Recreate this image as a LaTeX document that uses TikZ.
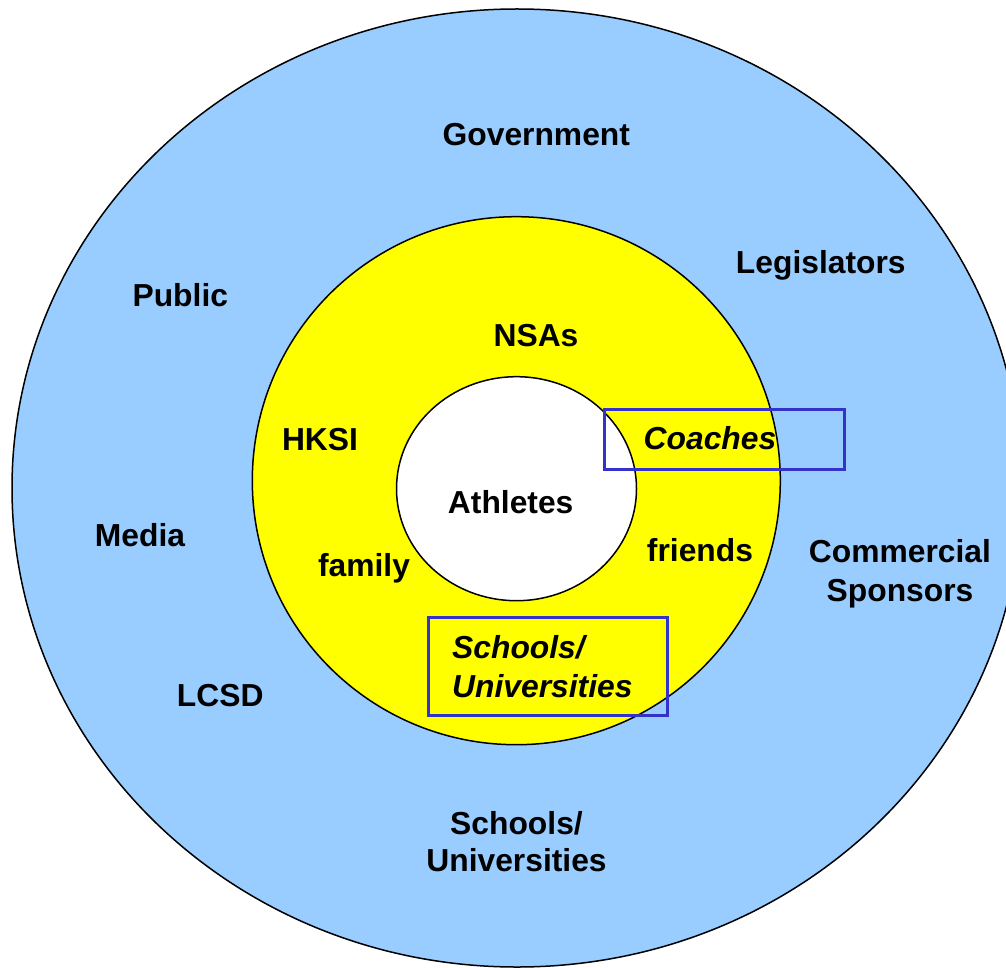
\documentclass[tikz,border=0pt]{standalone}
\usepackage{fontspec}
\setmainfont{Liberation Sans}
\definecolor{outerblue}{RGB}{153,204,255}
\definecolor{inneryellow}{RGB}{255,255,0}
\definecolor{boxblue}{RGB}{51,51,204}
\begin{document}
\begin{tikzpicture}[x=1pt,y=-1pt,
  lbl/.style={anchor=base,inner sep=0pt,font=\fontsize{31.8}{38}\selectfont\bfseries},
  ilbl/.style={lbl,font=\fontsize{31.8}{38}\selectfont\bfseries\itshape},
  ring/.style={draw=black,line width=1.5pt},
  hlbox/.style={draw=boxblue,line width=3pt,inner sep=0pt,outer sep=0pt,anchor=north west}]
\useasboundingbox (0,0) rectangle (1006,968);
\fill[white] (0,0) rectangle (1006,968);
\clip (0,0) rectangle (1006,968);
% rings
\path[ring,fill=outerblue] (517,488) ellipse [x radius=505pt, y radius=479pt];
\path[ring,fill=inneryellow] (516.3,480.7) circle [radius=264pt];
\path[ring,fill=white] (516.5,488.7) ellipse [x radius=120pt, y radius=112pt];
% highlight boxes (anchored on the stroke centre line)
\node[hlbox,minimum width=240.5pt,minimum height=60pt] (coachbox) at (604.2,409.8) {};
\node[hlbox,minimum width=239pt,minimum height=98.3pt] (schoolbox) at (428.5,617.2) {};
% outer ring labels
\node[lbl] (gov) at (536.3,145.3) {Government};
\node[lbl] (leg) at (820.8,273.3) {Legislators};
\node[lbl] (pub) at (180.3,306) {Public};
\node[lbl] (med) at (140,546) {Media};
\node[lbl] (lcsd) at (220.2,706) {LCSD};
\node[lbl] (com1) at (900,562) {Commercial};
\node[lbl] (com2) at (900,601) {Sponsors};
\node[lbl] (osch1) at (516.5,834) {Schools/};
\node[lbl] (osch2) at (516.5,871.7) {Universities};
% middle ring labels
\node[lbl] (nsa) at (536,346.4) {NSAs};
\node[lbl] (hksi) at (320,450) {HKSI};
\node[ilbl] (coach) at (710,449) {Coaches};
\node[lbl] (fri) at (700,561) {friends};
\node[lbl] (fam) at (364,576.8) {family};
\node[ilbl,anchor=base west] (isch1) at (452,658) {Schools/};
\node[ilbl,anchor=base west] (isch2) at (452,697) {Universities};
% centre
\node[lbl] (ath) at (510.7,513.6) {Athletes};
\end{tikzpicture}
\end{document}
